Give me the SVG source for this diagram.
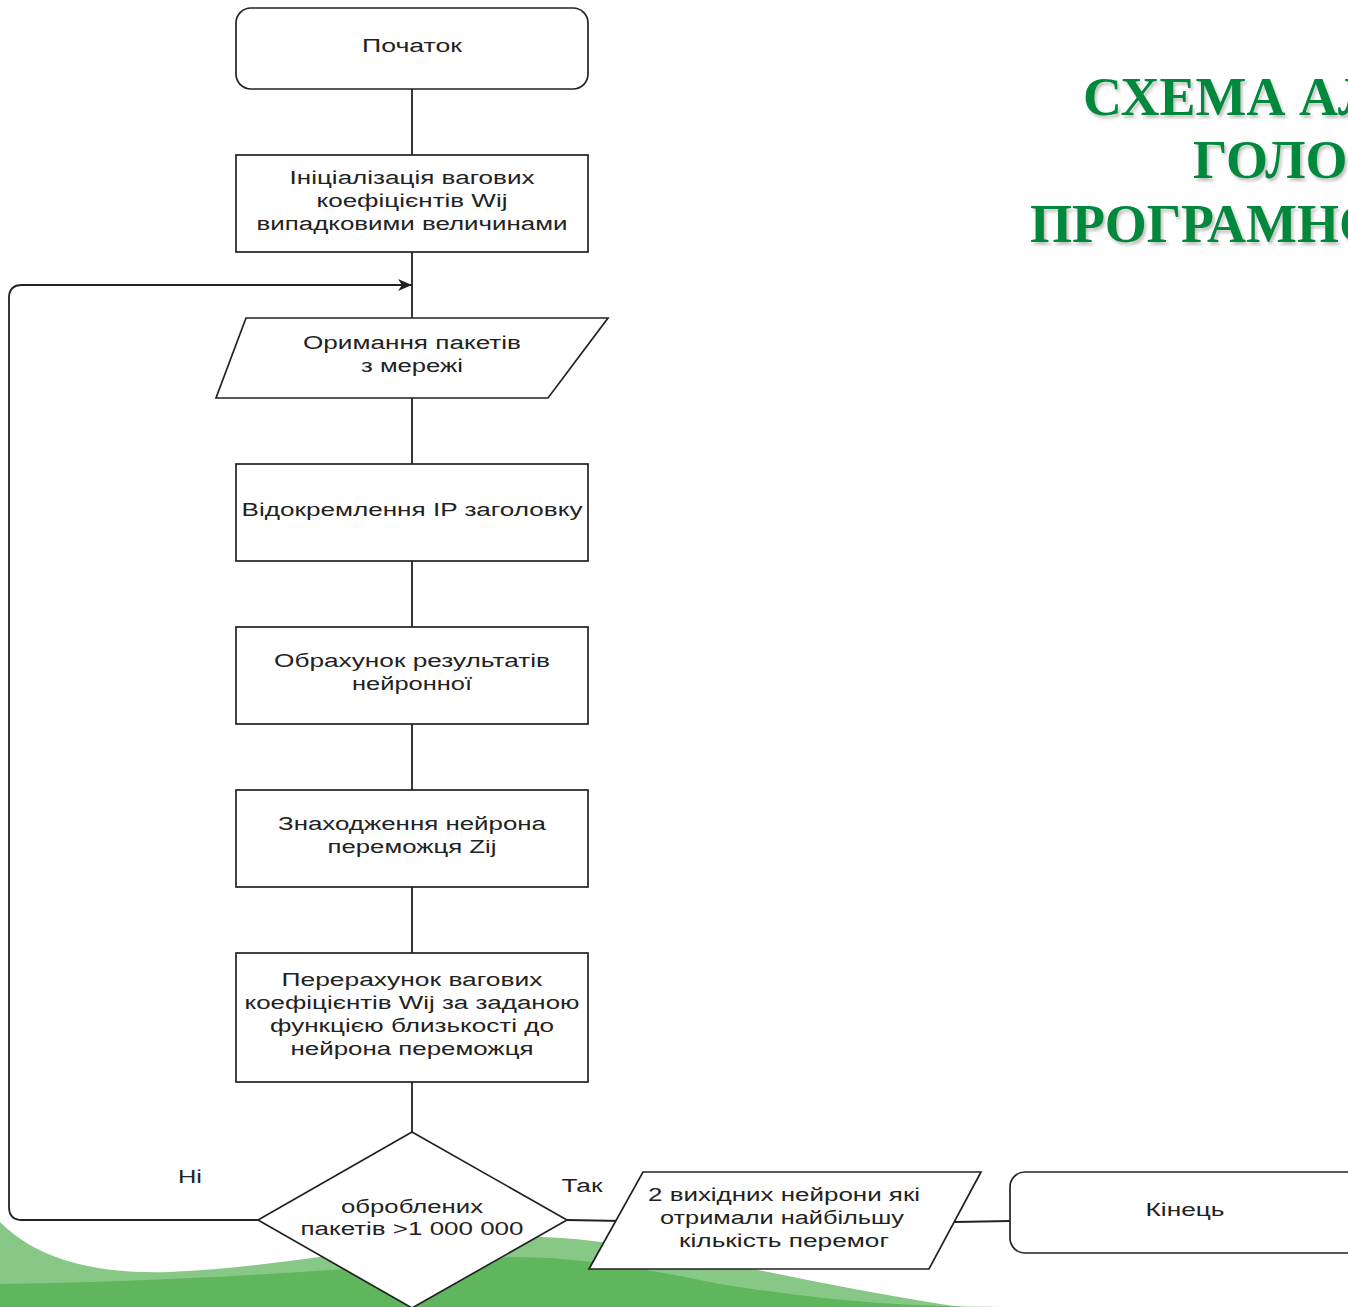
<svg xmlns="http://www.w3.org/2000/svg" width="1348" height="1307" viewBox="0 0 1348 1307">
<defs>
<style>
.shape{fill:#fff;stroke:#222;stroke-width:1.7}
.edge{fill:none;stroke:#222;stroke-width:1.8}
.t{font-family:"Liberation Sans",Arial,sans-serif;font-size:18px;fill:#222;text-anchor:middle}
.title{font-family:"Liberation Serif","Times New Roman",serif;font-size:54px;font-weight:bold;fill:#00893d}
</style>
<marker id="arr" viewBox="0 0 14 12" refX="14" refY="6" markerWidth="14" markerHeight="12" markerUnits="userSpaceOnUse" orient="auto">
<path d="M0,0 L14,6 L0,12 L4,6 Z" fill="#222"/>
</marker>
<filter id="sh" x="-5%" y="-20%" width="110%" height="140%">
<feDropShadow dx="2" dy="3" stdDeviation="1.5" flood-color="#777" flood-opacity="0.45"/>
</filter>
</defs>
<rect width="1348" height="1307" fill="#fff"/>
<g id="background">
<path d="M0,1222 C40,1262 100,1274 170,1272 C300,1266 420,1236 540,1237 C650,1240 780,1280 960,1307 L0,1307 Z" fill="#88c886"/>
<path d="M0,1284 C150,1282 330,1272 470,1259 C560,1252 630,1266 720,1284 C820,1300 900,1307 1000,1307 L0,1307 Z" fill="#5fb65c"/>
</g>
<g id="title" class="title" filter="url(#sh)">
<text x="1083" y="115">СХЕМА АЛ</text>
<text x="1193" y="178">ГОЛОВ</text>
<text x="1030" y="242">ПРОГРАМНО</text>
</g>
<g id="connectors">
<line class="edge" x1="412" y1="89" x2="412" y2="155"/>
<line class="edge" x1="412" y1="252" x2="412" y2="318"/>
<line class="edge" x1="412" y1="398" x2="412" y2="464"/>
<line class="edge" x1="412" y1="561" x2="412" y2="627"/>
<line class="edge" x1="412" y1="724" x2="412" y2="790"/>
<line class="edge" x1="412" y1="887" x2="412" y2="953"/>
<line class="edge" x1="412" y1="1082" x2="412" y2="1132"/>
<path class="edge" d="M258,1220 L22,1220 Q9,1220 9,1207 L9,298 Q9,285 22,285 L412,285" marker-end="url(#arr)"/>
<line class="edge" x1="567" y1="1220" x2="622" y2="1221"/>
<line class="edge" x1="955" y1="1222" x2="1010" y2="1221"/>
<text class="t" x="190" y="1183" textLength="24" lengthAdjust="spacingAndGlyphs">Ні</text>
<text class="t" x="582" y="1192" textLength="41" lengthAdjust="spacingAndGlyphs">Так</text>
</g>
<g id="start">
<rect class="shape" x="236" y="8" width="352" height="81" rx="15"/>
<text class="t" x="412" y="52" textLength="100" lengthAdjust="spacingAndGlyphs">Початок</text>
</g>
<g id="init">
<rect class="shape" x="236" y="155" width="352" height="97"/>
<text class="t" x="412" y="184" textLength="245" lengthAdjust="spacingAndGlyphs">Ініціалізація вагових</text>
<text class="t" x="412" y="207" textLength="191" lengthAdjust="spacingAndGlyphs">коефіцієнтів Wij</text>
<text class="t" x="412" y="230" textLength="311" lengthAdjust="spacingAndGlyphs">випадковими величинами</text>
</g>
<g id="receive">
<polygon class="shape" points="246,318 608,318 548,398 216,398"/>
<text class="t" x="412" y="349" textLength="218" lengthAdjust="spacingAndGlyphs">Оримання пакетів</text>
<text class="t" x="412" y="372" textLength="102" lengthAdjust="spacingAndGlyphs">з мережі</text>
</g>
<g id="separate">
<rect class="shape" x="236" y="464" width="352" height="97"/>
<text class="t" x="412" y="516" textLength="341" lengthAdjust="spacingAndGlyphs">Відокремлення IP заголовку</text>
</g>
<g id="compute">
<rect class="shape" x="236" y="627" width="352" height="97"/>
<text class="t" x="412" y="667" textLength="276" lengthAdjust="spacingAndGlyphs">Обрахунок результатів</text>
<text class="t" x="412" y="690" textLength="120" lengthAdjust="spacingAndGlyphs">нейронної</text>
</g>
<g id="winner">
<rect class="shape" x="236" y="790" width="352" height="97"/>
<text class="t" x="412" y="830" textLength="268" lengthAdjust="spacingAndGlyphs">Знаходження нейрона</text>
<text class="t" x="412" y="853" textLength="169" lengthAdjust="spacingAndGlyphs">переможця Zij</text>
</g>
<g id="recalc">
<rect class="shape" x="236" y="953" width="352" height="129"/>
<text class="t" x="412" y="986" textLength="261" lengthAdjust="spacingAndGlyphs">Перерахунок вагових</text>
<text class="t" x="412" y="1009" textLength="335" lengthAdjust="spacingAndGlyphs">коефіцієнтів Wij за заданою</text>
<text class="t" x="412" y="1032" textLength="284" lengthAdjust="spacingAndGlyphs">функцією близькості до</text>
<text class="t" x="412" y="1055" textLength="243" lengthAdjust="spacingAndGlyphs">нейрона переможця</text>
</g>
<g id="decision">
<polygon class="shape" points="412,1132 567,1220 412,1308 258,1220"/>
<text class="t" x="412" y="1213" textLength="142" lengthAdjust="spacingAndGlyphs">оброблених</text>
<text class="t" x="412" y="1235" textLength="223" lengthAdjust="spacingAndGlyphs">пакетів &gt;1 000 000</text>
</g>
<g id="output">
<polygon class="shape" points="643,1172 981,1172 929,1269 589,1269"/>
<text class="t" x="784" y="1201" textLength="272" lengthAdjust="spacingAndGlyphs">2 вихідних нейрони які</text>
<text class="t" x="782" y="1224" textLength="244" lengthAdjust="spacingAndGlyphs">отримали найбільшу</text>
<text class="t" x="784" y="1247" textLength="210" lengthAdjust="spacingAndGlyphs">кількість перемог</text>
</g>
<g id="end">
<rect class="shape" x="1010" y="1172" width="360" height="81" rx="15"/>
<text class="t" x="1185" y="1216" textLength="79" lengthAdjust="spacingAndGlyphs">Кінець</text>
</g>
</svg>
